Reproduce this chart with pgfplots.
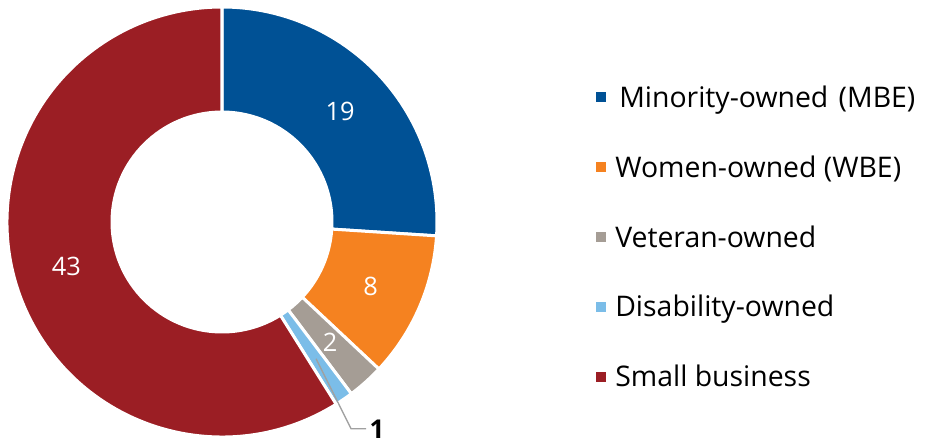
\documentclass[border=0pt]{standalone}
\usepackage{pgfplots}
\pgfplotsset{compat=1.18}
\usepackage{pgfplotstable}
\usepackage{fontspec}
\setmainfont{Open Sans}
\definecolor{cMBE}{HTML}{005195}
\definecolor{cWBE}{HTML}{F58220}
\definecolor{cVET}{HTML}{A59D95}
\definecolor{cDIS}{HTML}{7BBDE8}
\definecolor{cSMB}{HTML}{9B1E24}
\definecolor{cLead}{HTML}{A0A0A0}

\pgfplotstableread{
name value color inside
MBE 19 cMBE 1
WBE 8 cWBE 1
VET 2 cVET 1
DIS 1 cDIS 0
SMB 43 cSMB 1
}\slices

\begin{document}
\begin{tikzpicture}
\path[use as bounding box] (0,0) rectangle (932bp,443bp);
\begin{axis}[
  at={(7bp,6bp)}, anchor=south west,
  width=430bp, height=430bp, scale only axis,
  xmin=-1, xmax=1, ymin=-1, ymax=1,
  hide axis, clip=false,
  legend style={draw=none, fill=none, at={(1.37,0.465)}, anchor=west,
    font=\fontsize{28.5}{34}\selectfont, row sep=42.8bp, inner sep=0pt,
    legend cell align=left,
    /tikz/every odd column/.append style={column sep=7bp}},
  legend image code/.code={\fill[#1] (0bp,-5bp) rectangle (10bp,5bp);},
]
\pgfplotstablegetrowsof{\slices}
\pgfmathtruncatemacro\N{\pgfplotsretval-1}
\def\total{0}
\pgfplotsforeachungrouped \i in {0,...,\N}{%
  \pgfplotstablegetelem{\i}{value}\of\slices
  \pgfmathsetmacro\total{\total+\pgfplotsretval}%
  \xdef\total{\total}%
}
\def\acc{90}
\pgfplotsforeachungrouped \i in {0,...,\N}{%
  \pgfplotstablegetelem{\i}{value}\of\slices \let\v\pgfplotsretval
  \pgfplotstablegetelem{\i}{color}\of\slices \let\c\pgfplotsretval
  \pgfplotstablegetelem{\i}{inside}\of\slices \let\ins\pgfplotsretval
  \pgfmathsetmacro\b{\acc-\v/\total*360}%
  \pgfmathsetmacro\m{(\acc+\b)/2}%
  \edef\cmd{\noexpand\fill[\c, draw=white, line width=3bp, shift={(axis cs:0,0)}]
    (\acc:215bp) arc[start angle=\acc, end angle=\b, radius=215bp]
    -- (\b:110bp) arc[start angle=\b, end angle=\acc, radius=110bp] -- cycle;}%
  \cmd
  \ifnum\ins=1
    \edef\cmd{\noexpand\node[white, font=\noexpand\fontsize{25.5}{30}\noexpand\selectfont, shift={(axis cs:0,0)}] at (\m:162bp) {\v};}%
  \else
    \edef\cmd{\noexpand\draw[cLead, line width=1.3bp, shift={(axis cs:0,0)}] (\m:166bp) -- ++(35bp,-70bp) -- ++(15bp,0bp)
      node[right, black, inner sep=3bp, font=\noexpand\fontsize{26}{30}\noexpand\bfseries\noexpand\selectfont] {\v};}%
  \fi
  \cmd
  \xdef\acc{\b}%
}
\addlegendimage{fill=cMBE, draw=none}
\addlegendentry{\hspace{4bp}Minority-owned \hspace{3bp}(MBE)}
\addlegendimage{fill=cWBE, draw=none}
\addlegendentry{Women-owned (WBE)}
\addlegendimage{fill=cVET, draw=none}
\addlegendentry{Veteran-owned}
\addlegendimage{fill=cDIS, draw=none}
\addlegendentry{Disability-owned}
\addlegendimage{fill=cSMB, draw=none}
\addlegendentry{Small business}
\end{axis}
\end{tikzpicture}
\end{document}
